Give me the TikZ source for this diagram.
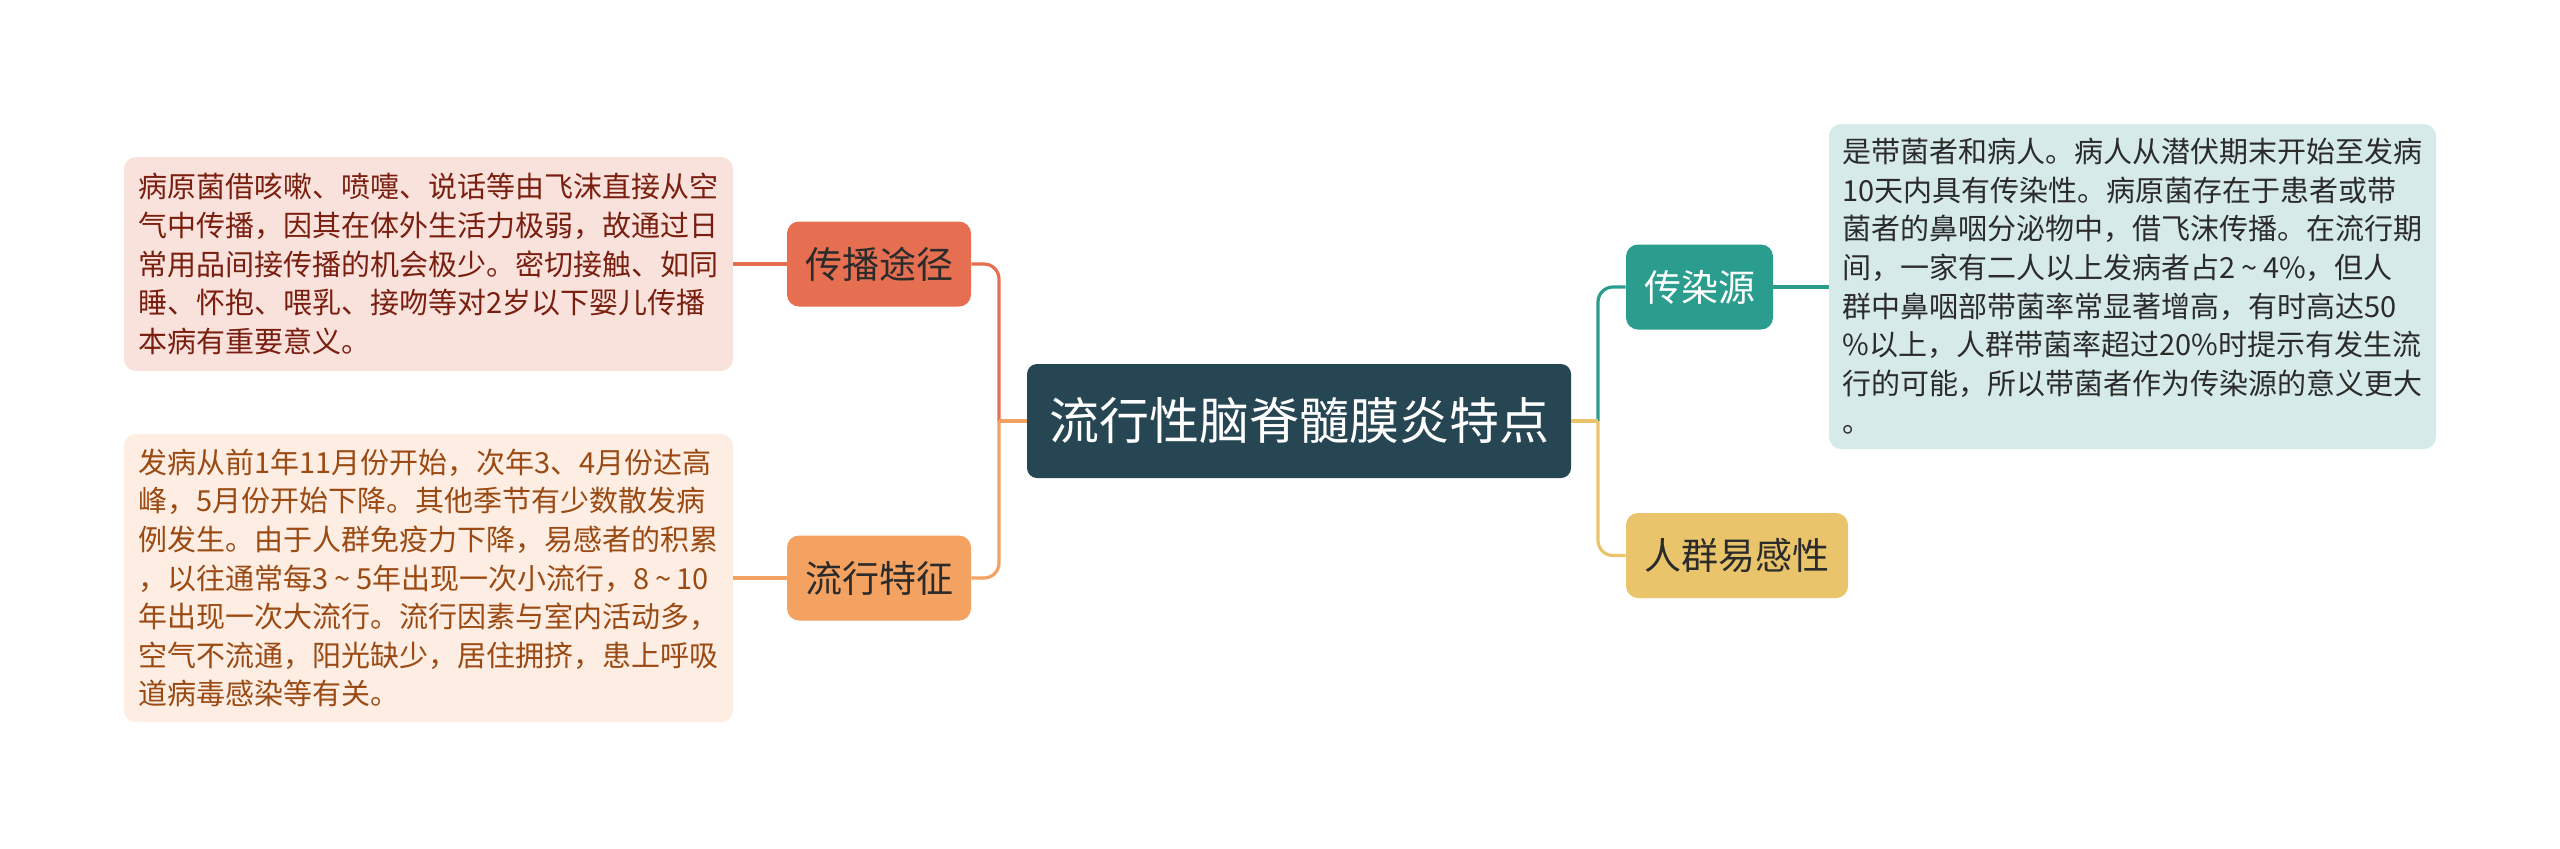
\documentclass[tikz,border=0pt]{standalone}
\usepackage{fontspec}
\setmainfont{Noto Sans CJK SC}
\definecolor{cdark}{HTML}{264653}
\definecolor{cteal}{HTML}{2A9D8F}
\definecolor{cyellow}{HTML}{E9C46A}
\definecolor{csand}{HTML}{F4A261}
\definecolor{cred}{HTML}{E76F51}
\definecolor{ltred}{HTML}{F9E2DC}
\definecolor{ltsand}{HTML}{FDEDE3}
\definecolor{ltteal}{HTML}{D6EBE9}
\definecolor{txred}{HTML}{7A1F10}
\definecolor{txsand}{HTML}{9A4A12}
\definecolor{txdark}{HTML}{2B2B2B}
\newcommand\tld{\makebox[0.95em]{\textasciitilde}}
\begin{document}
\begin{tikzpicture}[x=0.5pt,y=-0.5pt,
  rootbox/.style={fill=cdark, text=white, rounded corners=5pt, inner sep=0pt,
    minimum width=272pt, minimum height=57pt, font=\fontsize{25pt}{30pt}\selectfont},
  branch/.style={rounded corners=6pt, inner sep=0pt, minimum height=42.5pt,
    font=\fontsize{18.5pt}{22pt}\selectfont},
  note/.style={rounded corners=6pt, inner sep=0pt, align=left, minimum width=304.5pt,
    font=\fontsize{14.5pt}{19.3pt}\selectfont},
  link/.style={line width=1.6pt, rounded corners=7.5pt}]
\fill[white] (0,0) rectangle (2560,848);
\useasboundingbox (0,0) rectangle (2560,848);

\node[rootbox] (root) at (1299,421) {流行性脑脊髓膜炎特点};

\node[branch, fill=cred, text=txdark, minimum width=92pt] (b1) at (879,264) {传播途径};
\node[branch, fill=csand, text=txdark, minimum width=92pt] (b2) at (879,578) {流行特征};
\node[branch, fill=cteal, text=white, minimum width=73.5pt] (b3) at (1699.5,287) {传染源};
\node[branch, fill=cyellow, text=txdark, minimum width=111pt] (b4) at (1737,555.5) {人群易感性};

\node[note, fill=ltred, text=txred, minimum height=107pt] (n1) at (428.5,264) {病原菌借咳嗽、喷嚏、说话等由飞沫直接从空\\气中传播，因其在体外生活力极弱，故通过日\\常用品间接传播的机会极少。密切接触、如同\\睡、怀抱、喂乳、接吻等对2岁以下婴儿传播\\本病有重要意义。};

\node[note, fill=ltsand, text=txsand, minimum height=144pt] (n2) at (428.5,578) {发病从前1年11月份开始，次年3、4月份达高\\峰，5月份开始下降。其他季节有少数散发病\\例发生。由于人群免疫力下降，易感者的积累\\，以往通常每3\tld 5年出现一次小流行，8\tld 10\\年出现一次大流行。流行因素与室内活动多，\\空气不流通，阳光缺少，居住拥挤，患上呼吸\\道病毒感染等有关。};

\node[note, fill=ltteal, text=txdark, minimum width=303.5pt, minimum height=162.5pt] (n3) at (2132.5,286.5) {是带菌者和病人。病人从潜伏期末开始至发病\\10天内具有传染性。病原菌存在于患者或带\\菌者的鼻咽分泌物中，借飞沫传播。在流行期\\间，一家有二人以上发病者占2\tld 4\%，但人\\群中鼻咽部带菌率常显著增高，有时高达50\\\%以上，人群带菌率超过20\%时提示有发生流\\行的可能，所以带菌者作为传染源的意义更大\\。};

\coordinate (jl) at (999,421);
\coordinate (jr) at (1598,421);

\draw[link, cred] (jl) |- (b1.east);
\draw[link, csand] (jl) |- (b2.east);
\draw[link, csand] (root.west) -- (jl);
\draw[link, cteal] (jr) |- (b3.west);
\draw[link, cyellow] (jr) |- (b4.west);
\draw[link, cyellow] (root.east) -- (jr);

\draw[link, cred] (b1.west) -- (n1.east);
\draw[link, csand] (b2.west) -- (n2.east);
\draw[link, cteal] (b3.east) -- (n3.west |- b3.east);
\end{tikzpicture}
\end{document}
